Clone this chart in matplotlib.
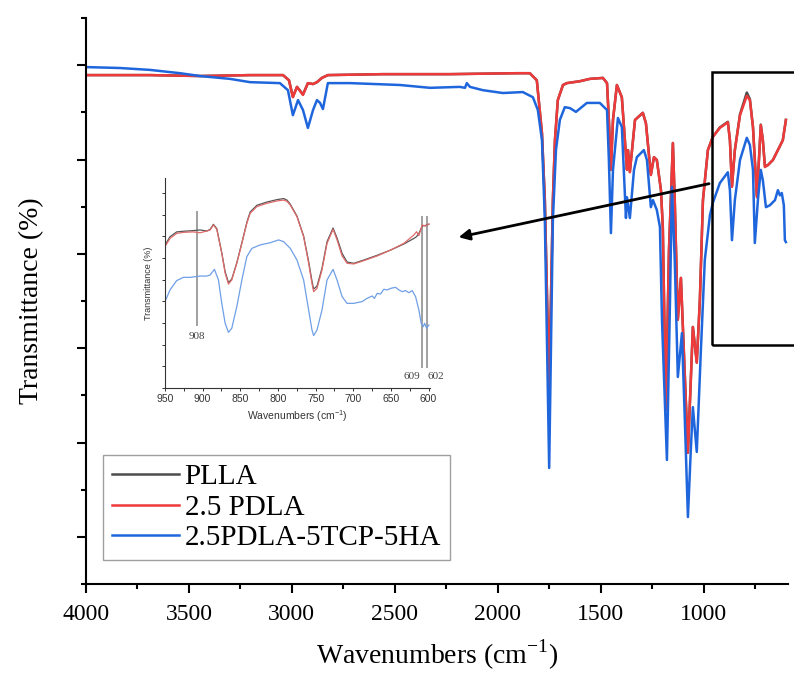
import matplotlib
matplotlib.use("Agg")
import matplotlib.pyplot as plt
from matplotlib.ticker import MultipleLocator, NullFormatter
from matplotlib.patches import Rectangle

plt.rcParams["font.family"] = ["Liberation Serif", "DejaVu Serif"]
plt.rcParams["mathtext.fontset"] = "custom"
plt.rcParams["mathtext.rm"] = "Liberation Serif"
plt.rcParams["mathtext.sf"] = "Liberation Sans"

# ---------------- full-range FTIR spectra ----------------
pdla_wn = [4000, 3689, 3446, 3203, 3043, 3014, 2995, 2975, 2946, 2922, 2897, 2878, 2854, 2825,
           2557, 2232, 1907, 1844, 1810, 1785, 1771, 1750, 1732, 1722, 1708, 1683, 1664, 1601,
           1552, 1489, 1469, 1460, 1450, 1440, 1421, 1397, 1372, 1367, 1358, 1333, 1295, 1280,
           1256, 1241, 1227, 1207, 1198, 1183, 1168, 1149, 1140, 1125, 1110, 1096, 1076, 1062,
           1052, 1033, 1018, 1003, 979, 955, 921, 882, 872, 862, 848, 823, 790, 775, 760, 741,
           731, 722, 712, 702, 688, 663, 615, 600]
pdla_t = [97.9, 97.9, 97.7, 97.9, 97.9, 96.8, 93.2, 95.4, 93.7, 96.2, 96.0, 96.4, 97.3, 97.9,
          98.1, 98.1, 98.3, 98.3, 96.8, 85.6, 71.4, 30.7, 71.4, 84.1, 92.6, 95.8, 96.2, 96.6,
          97.1, 97.3, 96.2, 88.4, 77.8, 88.4, 95.8, 93.2, 77.8, 82.0, 77.3, 88.4, 89.9, 87.7,
          76.7, 80.5, 79.9, 73.5, 65.7, 26.9, 60.8, 83.5, 71.4, 46.0, 54.9, 39.6, 17.8, 33.2,
          44.5, 36.9, 50.2, 71.4, 82.0, 84.8, 86.7, 87.9, 84.1, 74.2, 82.0, 89.4, 93.5, 92.6,
          86.9, 72.0, 79.9, 87.3, 84.1, 78.4, 78.8, 79.9, 84.1, 88.4]

plla_wn = pdla_wn
plla_t = [97.9, 97.9, 97.7, 97.9, 97.9, 96.8, 93.3, 95.4, 93.8, 96.2, 96.0, 96.4, 97.3, 97.9,
          98.1, 98.1, 98.3, 98.3, 96.8, 85.6, 71.4, 30.9, 71.4, 84.1, 92.6, 95.8, 96.2, 96.6,
          97.1, 97.3, 96.2, 88.4, 77.9, 88.4, 95.8, 93.2, 77.9, 82.0, 77.4, 88.4, 89.9, 87.7,
          76.8, 80.5, 79.9, 73.5, 65.7, 27.0, 60.8, 83.5, 71.4, 46.1, 54.9, 39.6, 17.9, 33.2,
          44.5, 37.0, 50.2, 71.4, 82.0, 84.8, 86.8, 88.0, 84.1, 74.4, 82.0, 89.6, 94.2, 92.8,
          86.9, 72.3, 79.9, 87.4, 84.1, 78.6, 78.8, 79.9, 84.1, 88.4]

comp_wn = [4000, 3835, 3689, 3543, 3446, 3301, 3203, 3058, 3019, 2995, 2970, 2946, 2922, 2897,
           2878, 2863, 2849, 2825, 2718, 2475, 2329, 2184, 2159, 2150, 2135, 2072, 1975, 1878,
           1829, 1805, 1785, 1771, 1750, 1732, 1717, 1698, 1674, 1649, 1620, 1567, 1504, 1469,
           1460, 1450, 1440, 1416, 1397, 1377, 1372, 1358, 1338, 1324, 1290, 1275, 1256, 1246,
           1227, 1212, 1202, 1178, 1163, 1154, 1140, 1125, 1105, 1091, 1076, 1062, 1052, 1033,
           1013, 994, 969, 955, 921, 882, 872, 862, 848, 823, 790, 775, 760, 751, 736, 722,
           712, 697, 678, 653, 639, 629, 620, 610, 605, 600]
comp_t = [99.6, 99.4, 99.0, 98.3, 97.7, 97.1, 96.4, 96.2, 94.7, 89.4, 92.6, 90.5, 86.7, 90.5,
          92.6, 92.0, 90.7, 96.2, 96.2, 95.8, 95.2, 95.4, 95.2, 96.2, 95.4, 94.7, 94.1, 94.3,
          93.2, 90.5, 84.1, 67.2, 14.6, 67.2, 82.0, 88.4, 91.1, 90.9, 90.1, 92.0, 92.0, 90.5,
          79.9, 64.4, 77.8, 88.8, 86.9, 67.6, 72.0, 67.6, 77.8, 80.5, 82.0, 79.9, 69.9, 71.4,
          69.3, 65.7, 46.0, 16.3, 50.2, 74.2, 58.7, 33.9, 43.2, 24.8, 4.2, 18.4, 27.5, 18.0,
          39.6, 58.7, 68.2, 70.8, 75.0, 77.3, 73.5, 62.9, 71.4, 79.9, 84.6, 83.1, 77.8, 62.3,
          71.4, 77.8, 75.6, 69.9, 70.3, 71.4, 73.5, 72.4, 72.9, 70.3, 62.9, 62.5]

# ---------------- 950-600 cm-1 detail ----------------
in_pdla_wn = [950, 943.3, 934.5, 925.6, 912.3, 903.4, 894.5, 890.1, 885.7, 881.2, 874.6, 870.1,
              865.7, 861.3, 854.6, 847.9, 841.3, 836.9, 827.9, 814.7, 801.4, 792.5, 788.0, 783.6,
              774.7, 765.9, 759.2, 754.8, 752.6, 748.1, 741.5, 734.8, 726.8, 721.5, 714.8, 708.2,
              699.3, 686.0, 668.2, 650.5, 632.8, 619.4, 615.9, 612.8, 608.4, 604.0, 599.5]
in_pdla_t = [65.3, 69.1, 71.4, 71.9, 72.1, 71.7, 72.5, 73.0, 75.3, 73.3, 62.2, 53.0,
             48.0, 49.9, 57.6, 66.8, 76.1, 80.7, 83.8, 85.3, 86.4, 86.8, 86.2, 84.5,
             79.1, 69.9, 57.6, 48.3, 44.5, 46.0, 54.5, 66.8, 73.3, 68.4, 61.0, 57.6,
             57.3, 58.8, 61.0, 63.7, 66.8, 70.7, 72.2, 70.4, 75.3, 74.8, 75.8]
in_plla_t = [66.0, 69.9, 72.1, 72.4, 72.7, 73.0, 72.5, 73.2, 75.6, 73.6, 62.5, 53.7,
             48.7, 50.3, 57.9, 67.1, 76.5, 81.3, 84.4, 85.9, 87.0, 87.5, 86.8, 84.9,
             79.4, 70.2, 58.4, 49.4, 45.7, 47.1, 55.3, 67.6, 73.9, 69.3, 62.2, 58.2,
             57.6, 59.1, 61.3, 63.7, 66.5, 69.1, 69.9, 71.4, 74.8, 75.1, 75.6]
in_comp_wn = [950, 943.3, 934.5, 925.6, 916.7, 903.4, 894.5, 890.1, 884.3, 879.0, 874.6, 870.1,
              865.7, 861.3, 854.6, 847.9, 841.3, 834.6, 823.5, 810.2, 799.1, 792.5, 783.6, 774.7,
              765.9, 759.2, 754.8, 752.6, 748.1, 741.5, 734.8, 726.8, 721.5, 714.8, 708.2, 699.3,
              688.2, 681.6, 674.9, 671.8, 668.2, 663.8, 659.4, 654.9, 650.5, 643.8, 639.4, 635.0,
              630.5, 626.1, 621.7, 617.2, 612.8, 609.7, 607.0, 605.2, 602.6, 599.5]
in_comp_t = [39.9, 45.3, 49.6, 51.1, 51.1, 51.7, 51.7, 52.2, 54.8, 49.9, 39.1, 29.9,
             25.7, 27.6, 37.6, 49.9, 60.7, 64.5, 66.1, 67.1, 68.4, 67.6, 64.5, 59.1,
             49.9, 36.0, 26.8, 24.2, 26.8, 36.0, 49.9, 54.8, 49.9, 42.2, 39.1, 39.1,
             39.9, 41.4, 42.5, 41.4, 43.7, 43.4, 45.6, 45.3, 46.0, 46.5, 45.3, 44.5,
             45.0, 44.0, 45.0, 42.2, 36.0, 29.9, 28.3, 29.9, 27.6, 29.1]

marker_wn = [908, 609, 602]
marker_labels = ["908", "609", "602"]

series_names = ["PLLA", "2.5 PDLA", "2.5PDLA-5TCP-5HA"]
colors = ["#4d4d4d", "#ee3a3a", "#1f66dd"]
inset_colors = ["#555555", "#e06a6a", "#6f9fe6"]

fig = plt.figure(figsize=(7.94, 6.75), dpi=100)
ax = fig.add_axes([0.1083, 0.1348, 0.8841, 0.8385])

for wn, t, name, c in zip([plla_wn, pdla_wn, comp_wn], [plla_t, pdla_t, comp_t],
                          series_names, colors):
    ax.plot(wn, t, color=c, lw=1.8, label=name, solid_joinstyle="round")

ax.set_xlim(4000, 590)
ax.set_ylim(-10, 110)
ax.xaxis.set_major_locator(MultipleLocator(500))
ax.xaxis.set_minor_locator(MultipleLocator(250))
ax.yaxis.set_major_locator(MultipleLocator(20))
ax.yaxis.set_minor_locator(MultipleLocator(10))
ax.yaxis.set_major_formatter(NullFormatter())
for side in ("top", "right"):
    ax.spines[side].set_visible(False)
for side in ("left", "bottom"):
    ax.spines[side].set_linewidth(1.5)
ax.tick_params(which="major", direction="out", length=6.5, width=1.5, labelsize=17, pad=8)
ax.tick_params(which="minor", direction="out", length=3.6, width=1.5)
ax.set_xlabel("Wavenumbers (cm$^{-1}$)", fontsize=20, labelpad=9)
ax.set_ylabel("Transmittance (%)", fontsize=20, labelpad=16)

leg = ax.legend(loc="lower left", bbox_to_anchor=(0.024, 0.042), borderaxespad=0,
                fontsize=21, handlelength=2.3, handletextpad=0.2, borderpad=0.3,
                labelspacing=0.14, frameon=True, fancybox=False)
leg.get_frame().set_edgecolor("#888888")
leg.get_frame().set_linewidth(1.0)

# highlighted fingerprint window and pointer to the detail panel
ax.add_patch(Rectangle((960, 40.7), 550 - 960, 98.5 - 40.7, fill=False,
                       edgecolor="black", lw=1.8, clip_on=False, zorder=5))
ax.annotate("", xy=(2203, 63.4), xytext=(960, 75.0),
            arrowprops=dict(arrowstyle="-|>", color="black", lw=2.0, mutation_scale=16),
            zorder=6)

# ---------------- detail panel ----------------
ins = fig.add_axes([0.2078, 0.4252, 0.3338, 0.3111])
ins.plot(in_pdla_wn, in_plla_t, color=inset_colors[0], lw=0.9)
ins.plot(in_pdla_wn, in_pdla_t, color=inset_colors[1], lw=0.9)
ins.plot(in_comp_wn, in_comp_t, color=inset_colors[2], lw=0.9)
ins.set_xlim(950, 598)
ins.set_ylim(0, 97)
for side in ("top", "right"):
    ins.spines[side].set_visible(False)
for side in ("left", "bottom"):
    ins.spines[side].set_linewidth(0.8)
    ins.spines[side].set_color("#333333")
ins.xaxis.set_major_locator(MultipleLocator(50))
ins.xaxis.set_minor_locator(MultipleLocator(25))
ins.yaxis.set_major_locator(MultipleLocator(10))
ins.yaxis.set_major_formatter(NullFormatter())
ins.tick_params(which="both", direction="out", length=2, width=0.7, colors="#333333")
ins.tick_params(axis="x", labelsize=7.5, pad=2)
for lbl in ins.get_xticklabels():
    lbl.set_family("Liberation Sans")
ins.set_xlabel("Wavenumbers (cm$^{\\mathsf{-1}}$)", fontsize=7.5, family="Liberation Sans",
               labelpad=3, color="#333333")
ins.set_ylabel("Transmittance (%)", fontsize=6.5, family="Liberation Sans", labelpad=3,
               color="#333333")

line_spans = [(29.1, 81.3), (9.7, 79.0), (9.7, 79.0)]
for wn, (lo, hi) in zip(marker_wn, line_spans):
    ins.plot([wn, wn], [lo, hi], color="#a0a0a0", lw=1.4, zorder=0)
label_pos = [(908, 23.6), (621.6, 5.2), (590.6, 5.2)]
for (x, y), txt in zip(label_pos, marker_labels):
    ins.text(x, y, txt, ha="center", va="center", fontsize=8, color="#444444",
             clip_on=False)

fig.savefig("out.png", dpi=100)
